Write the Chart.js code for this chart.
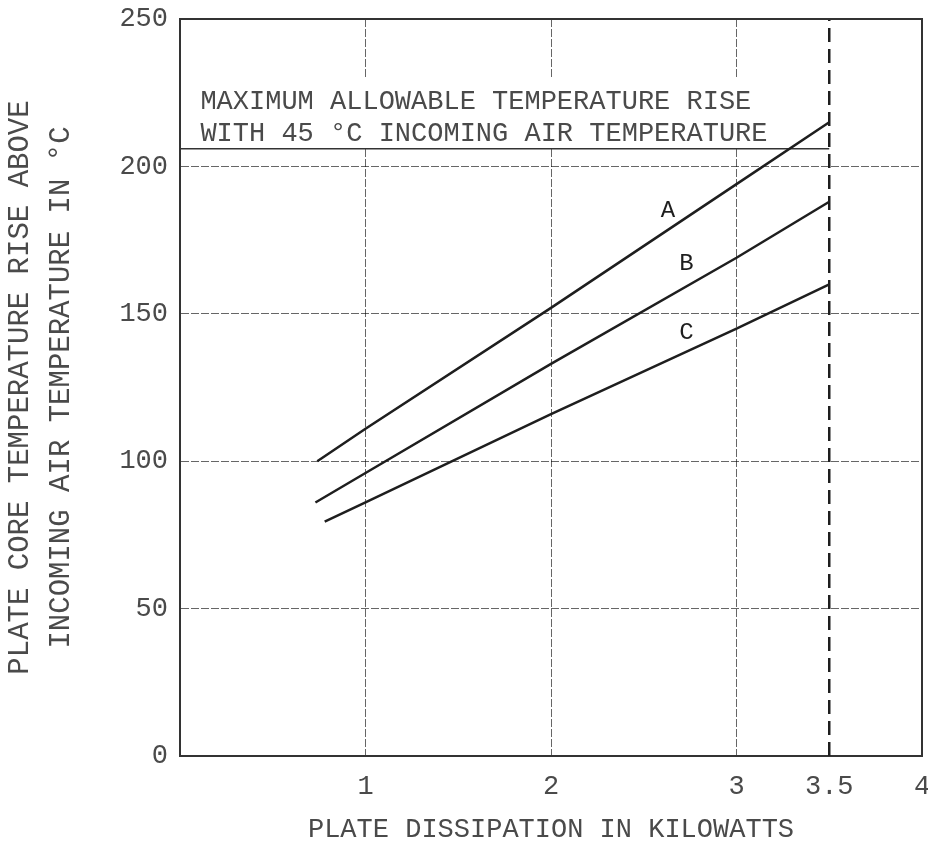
<!DOCTYPE html>
<html>
<head>
<meta charset="utf-8">
<script src="https://cdn.jsdelivr.net/npm/chart.js@4.4.1/dist/chart.umd.min.js"></script>
<style>
  html, body { margin: 0; padding: 0; background: #fff; }
</style>
</head>
<body>
<canvas id="myChart" width="928" height="845"></canvas>
<script>
// values: plate dissipation (kW) -> core temp rise (deg C)
const curveAx = [0.74, 1, 2, 3, 3.5];
const curveAy = [100, 111, 152, 194, 215];
const curveBx = [0.73, 1, 2, 3, 3.5];
const curveBy = [86, 96, 133, 169, 188];
const curveCx = [0.78, 1, 2, 3, 3.5];
const curveCy = [79.5, 86, 116, 145, 160];

const limitX = 3.5;      // dashed vertical limit
const maxRise = 206;     // max allowable rise line

const xTicks = [1, 2, 3, 3.5, 4];
const yTicks = [0, 50, 100, 150, 200, 250];

const curveNames = ['A', 'B', 'C'];
const nameX = [2.63, 2.73, 2.73];
const nameY = [185, 167, 143.5];

const noteLines = ['MAXIMUM ALLOWABLE TEMPERATURE RISE', 'WITH 45 \u00B0C INCOMING AIR TEMPERATURE'];
const noteX = 0.11;
const noteY = [222, 211];

const mono = '"Liberation Mono", "DejaVu Sans Mono", monospace';
const ink = '#1e1e1e';
const faded = '#4a4a4a';
const gridInk = 'rgba(0,0,0,0.6)';

const toPoints = (xs, ys) => xs.map((v, i) => ({ x: v, y: ys[i] }));

const curve = (label, xs, ys) => ({
  label: label,
  data: toPoints(xs, ys),
  showLine: true,
  borderColor: ink,
  borderWidth: 2.5,
  pointRadius: 0,
  tension: 0
});

const paper = {
  id: 'paper',
  beforeDraw(chart) {
    const ctx = chart.ctx;
    ctx.save();
    ctx.fillStyle = '#fff';
    ctx.fillRect(0, 0, chart.width, chart.height);
    ctx.restore();
  },
  beforeDatasetsDraw(chart) {
    // blank band behind the note text (grid lines stop there)
    const { ctx, scales: { x, y } } = chart;
    const l = x.getPixelForValue(0) + 2;
    const r = x.getPixelForValue(limitX) - 2;
    const t = y.getPixelForValue(230);
    const b = y.getPixelForValue(maxRise) - 1;
    ctx.save();
    ctx.fillStyle = '#fff';
    ctx.fillRect(l, t, r - l, b - t);
    ctx.restore();
  },
  afterDatasetsDraw(chart) {
    const { ctx, chartArea, scales: { x, y } } = chart;
    ctx.save();
    // top and right edges of the frame
    ctx.strokeStyle = '#333';
    ctx.lineWidth = 2;
    ctx.beginPath();
    ctx.moveTo(chartArea.left, chartArea.top);
    ctx.lineTo(chartArea.right, chartArea.top);
    ctx.lineTo(chartArea.right, chartArea.bottom);
    ctx.stroke();

    ctx.fillStyle = faded;
    ctx.font = '27px ' + mono;
    ctx.textAlign = 'left';
    ctx.textBaseline = 'middle';
    noteLines.forEach((txt, i) => {
      ctx.fillText(txt, x.getPixelForValue(noteX), y.getPixelForValue(noteY[i]));
    });

    ctx.fillStyle = ink;
    ctx.font = '24px ' + mono;
    ctx.textAlign = 'center';
    curveNames.forEach((n, i) => {
      ctx.fillText(n, x.getPixelForValue(nameX[i]), y.getPixelForValue(nameY[i]));
    });
    ctx.restore();
  }
};

var ctx = document.getElementById('myChart').getContext('2d');

var myChart = new Chart(ctx, {
  type: 'scatter',
  data: {
    datasets: [
      curve('A', curveAx, curveAy),
      curve('B', curveBx, curveBy),
      curve('C', curveCx, curveCy),
      {
        label: 'limit',
        data: [{ x: limitX, y: 0 }, { x: limitX, y: 250 }],
        showLine: true,
        borderColor: ink,
        borderWidth: 2.5,
        borderDash: [14, 7],
        pointRadius: 0
      },
      {
        label: 'max rise',
        data: [{ x: 0, y: maxRise }, { x: limitX, y: maxRise }],
        showLine: true,
        borderColor: '#333',
        borderWidth: 1.5,
        pointRadius: 0
      }
    ]
  },
  options: {
    responsive: false,
    animation: false,
    devicePixelRatio: 1,
    layout: { padding: { top: 19, right: 6, bottom: 0, left: 0 } },
    plugins: {
      legend: { display: false },
      tooltip: { enabled: false }
    },
    scales: {
      x: {
        type: 'linear',
        min: 0,
        max: 4,
        afterBuildTicks: (scale) => { scale.ticks = xTicks.map(v => ({ value: v })); },
        afterFit: (scale) => {
          scale.height = 89;
          scale.paddingLeft = 0;
          scale.paddingRight = 0;
        },
        grid: {
          // no grey grid line under the dashed limit line
          color: (c) => (c.tick && c.tick.value === limitX ? 'rgba(0,0,0,0)' : gridInk),
          lineWidth: 1,
          drawTicks: false
        },
        border: { display: true, color: '#333', width: 2, dash: [8, 2] },
        ticks: {
          color: faded,
          font: { family: mono, size: 27 },
          padding: 15,
          maxRotation: 0,
          autoSkip: false,
          callback: (v) => String(v)
        },
        title: {
          display: true,
          text: 'PLATE DISSIPATION IN KILOWATTS',
          color: faded,
          font: { family: mono, size: 27, lineHeight: 1.1 },
          padding: 0
        }
      },
      y: {
        min: 0,
        max: 250,
        afterBuildTicks: (scale) => { scale.ticks = yTicks.map(v => ({ value: v })); },
        afterFit: (scale) => {
          scale.width = 180;
          scale.paddingTop = 0;
          scale.paddingBottom = 0;
        },
        grid: { color: gridInk, lineWidth: 1, drawTicks: false },
        border: { display: true, color: '#333', width: 2, dash: [8, 2] },
        ticks: {
          color: faded,
          font: { family: mono, size: 27 },
          padding: 12
        },
        title: {
          display: true,
          text: ['PLATE CORE TEMPERATURE RISE ABOVE', 'INCOMING AIR TEMPERATURE IN \u00B0C'],
          color: faded,
          font: { family: mono, size: 29, lineHeight: 41 / 29 },
          padding: 0
        }
      }
    }
  },
  plugins: [paper]
});
</script>
</body>
</html>
